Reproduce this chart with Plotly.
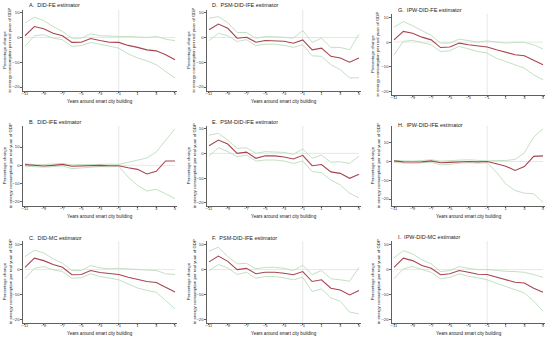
import plotly.graph_objects as go

W, H = 550, 338
years = list(range(-11, 6))
x_ticks = [-11, -9, -7, -5, -3, -1, 1, 3, 5]
y_ticks = [10, 0, -10, -20]

titles = ["A.  DID-FE estimator", "B.  DID-IFE estimator", "C.  DID-MC estimator",
          "D.  PSM-DID-IFE estimator", "E.  PSM-DID-IFE estimator", "F.  PSM-DID-IFE estimator",
          "G.  IPW-DID-FE estimator", "H.  IPW-DID-IFE estimator", "I.  IPW-DID-MC estimator"]

# Point estimates
est_A = [0.7, 4.4, 3.5, 1.7, 0.7, -2.0, -1.9, -0.4, -1.2, -1.9, -2.0, -3.2, -4.0, -5.0, -5.4, -7.0, -9.0]
est_B = [0.4, -0.2, -0.4, 0.0, 0.5, -0.5, -0.4, 0.0, 0.0, -0.2, -0.2, -1.3, -2.2, -4.7, -3.3, 2.4, 2.4]
est_C = [0.9, 4.6, 3.6, 2.0, 0.9, -2.1, -2.0, -0.4, -1.2, -1.7, -2.0, -3.1, -3.9, -4.8, -5.2, -7.1, -9.0]
est_D = [3.1, 5.4, 3.7, -0.3, 0.1, -1.9, -1.2, -1.2, -1.5, -2.3, -1.0, -5.0, -4.3, -7.6, -8.3, -10.0, -8.3]
est_E = [3.1, 5.4, 3.8, 0.0, 0.5, -2.0, -1.0, -1.0, -1.5, -2.3, -0.8, -5.0, -4.5, -7.5, -8.1, -10.1, -8.5]
est_F = [3.1, 5.4, 3.3, 0.0, 0.5, -1.7, -1.1, -1.1, -1.5, -2.1, -0.8, -4.8, -4.1, -7.5, -8.2, -10.2, -8.4]
est_G = [0.9, 4.3, 3.6, 2.0, 0.9, -2.2, -2.0, -0.4, -1.1, -1.7, -2.0, -3.1, -4.0, -5.1, -5.5, -7.4, -9.1]
est_H = [0.3, -0.2, -0.3, -0.2, 0.3, -0.7, -0.5, -0.2, 0.0, -0.2, 0.0, -1.2, -2.5, -4.8, -2.7, 2.7, 3.0]
est_I = [0.9, 4.6, 3.6, 1.6, 0.5, -2.1, -1.7, -0.4, -1.1, -1.9, -2.0, -3.1, -4.0, -5.1, -5.4, -7.5, -9.1]

# Upper confidence bounds
up_A = [5.8, 8.2, 6.8, 4.4, 2.4, -0.3, -0.3, 1.5, 0.7, 0.4, 0.4, 0.4, 0.1, 0.0, 0.4, -0.7, -1.3]
up_B = [0.9, 0.4, 0.4, 0.6, 1.0, 0.3, 0.4, 0.7, 0.8, 0.6, 0.5, 1.8, 3.1, 4.0, 7.3, 13.6, 20.0]
up_C = [5.2, 7.8, 6.7, 4.3, 2.5, -0.4, -0.4, 1.6, 0.7, 0.3, 0.5, 0.3, 0.0, -0.1, -0.4, -1.7, -2.0]
up_D = [7.8, 8.4, 6.0, 2.0, 2.0, -0.3, 0.4, 0.4, 0.1, -0.3, 2.8, -2.0, -0.3, -4.0, -4.0, -5.0, 1.3]
up_E = [7.4, 8.1, 5.4, 2.0, 2.3, 0.0, 0.7, 0.7, 0.4, -0.4, 1.8, -2.0, -0.7, -3.6, -3.4, -4.1, -1.1]
up_F = [7.4, 9.0, 5.2, 2.3, 2.5, 0.3, 0.9, 0.9, 0.5, -0.4, 1.7, -2.0, -0.4, -3.7, -4.1, -4.7, 0.9]
up_G = [6.0, 8.3, 6.6, 4.7, 2.7, -0.4, -0.4, 1.2, 0.5, 0.0, 0.5, 0.0, -0.4, -0.1, -0.1, -1.1, -2.8]
up_H = [0.5, 0.3, 0.2, 0.5, 0.9, 0.2, 0.3, 0.7, 0.9, 0.5, 0.3, 0.5, 0.5, 1.1, 4.6, 13.0, 17.4]
up_I = [4.7, 7.6, 6.3, 3.9, 2.3, -0.8, -0.4, 1.2, 0.5, 0.0, 0.0, -0.4, -0.7, -0.8, -1.1, -2.0, -3.1]

# Lower confidence bounds
lo_A = [-3.6, 0.7, 1.1, -0.3, -0.9, -3.6, -3.3, -2.0, -2.7, -3.6, -4.3, -6.6, -8.3, -9.4, -11.0, -13.7, -16.3]
lo_B = [-0.5, -0.9, -1.0, -0.7, -0.3, -1.8, -1.3, -0.8, -0.7, -0.8, -0.5, -6.4, -10.9, -14.0, -13.1, -15.5, -18.2]
lo_C = [-3.7, 0.5, 1.2, -0.1, -0.8, -3.5, -3.3, -1.7, -2.8, -3.5, -4.1, -5.8, -7.4, -8.4, -9.1, -12.4, -15.8]
lo_D = [-1.3, 1.7, 0.7, -1.6, -0.9, -3.3, -2.7, -2.7, -3.2, -4.0, -2.9, -7.4, -7.6, -11.0, -13.0, -16.3, -16.3]
lo_E = [-1.1, 2.3, 0.7, -1.4, -0.7, -3.1, -2.7, -2.7, -3.1, -4.1, -3.1, -7.4, -7.8, -10.8, -12.8, -16.2, -18.0]
lo_F = [-0.4, 2.0, 0.7, -2.0, -1.1, -3.5, -2.8, -2.8, -3.3, -4.1, -3.1, -8.8, -7.8, -11.4, -12.7, -17.1, -17.8]
lo_G = [-5.1, 0.3, 0.7, -0.1, -1.1, -3.8, -3.5, -1.7, -2.8, -3.8, -4.4, -6.5, -7.8, -9.2, -10.5, -13.2, -15.2]
lo_H = [-0.5, -0.9, -1.1, -0.7, -0.4, -1.8, -1.6, -0.9, -0.7, -0.9, -0.7, -5.7, -11.9, -15.5, -16.9, -17.2, -21.7]
lo_I = [-3.7, 0.3, 1.2, -0.1, -1.1, -3.7, -3.1, -1.7, -2.7, -3.3, -4.1, -5.5, -6.7, -8.2, -9.4, -12.7, -16.7]

estimates = [est_A, est_B, est_C, est_D, est_E, est_F, est_G, est_H, est_I]
uppers = [up_A, up_B, up_C, up_D, up_E, up_F, up_G, up_H, up_I]
lowers = [lo_A, lo_B, lo_C, lo_D, lo_E, lo_F, lo_G, lo_H, lo_I]

# Layout (pixels): per column x position of -11 and 5; per panel y geometry
col_x = [(25, 175), (209, 359), (394, 543)]
# (pixel of y=10, pixels per unit, axis top px, axis bottom px, title y px)
geom = [
    (12.7, 2.477, 10, 91, 5), (147.0, 1.833, 126, 206, 122), (244.7, 2.487, 241, 323, 238),
    (12.7, 2.477, 10, 91, 5), (128.7, 2.467, 126, 206, 122), (244.7, 2.487, 241, 323, 238),
    (17.3, 2.480, 14, 95, 10), (142.7, 1.877, 126, 206, 125), (244.7, 2.487, 241, 323, 237),
]
title_x = [27, 210, 396]
ylab_x = [7, 191, 375]

RED = "#a8444f"
GREEN = "#bcdcbc"
REF = "#dcdcdc"
AX = "#606060"
FONT = "Liberation Sans, Arial, sans-serif"

fig = go.Figure()
annotations = []
shapes = []
layout_axes = {}

for i in range(9):
    col = i // 3
    x0, x1 = col_x[col]
    p10, ppu, top, bot, ty = geom[i]
    ppy = (x1 - x0) / 16.0
    dx0 = (x0 - 0.25 * ppy) / W
    dx1 = (x1 + 0.25 * ppy) / W
    ymax = 10 + (p10 - top) / ppu
    ymin = 10 - (bot - p10) / ppu
    dy0 = 1 - bot / H
    dy1 = 1 - top / H
    n = "" if i == 0 else str(i + 1)
    xa, ya = "x" + n, "y" + n

    layout_axes["xaxis" + n] = dict(
        domain=[dx0, dx1], range=[-11.25, 5.25], anchor=ya,
        tickvals=x_ticks, ticks="outside", ticklen=1.5, tickwidth=0.6, tickcolor=AX,
        showline=True, linecolor=AX, linewidth=0.6, showgrid=False, zeroline=False,
        ticklabelstandoff=-3,
        tickfont=dict(size=4.2, family=FONT, color="#333"),
    )
    layout_axes["yaxis" + n] = dict(
        domain=[dy0, dy1], range=[ymin, ymax], anchor=xa,
        tickvals=y_ticks, ticks="outside", ticklen=1.5, tickwidth=0.6, tickcolor=AX,
        showline=True, linecolor=AX, linewidth=0.6, showgrid=False, zeroline=False,
        tickfont=dict(size=4.2, family=FONT, color="#333"),
    )

    # reference lines
    shapes.append(dict(type="line", xref=xa, yref=ya, x0=-11, x1=5, y0=0, y1=0,
                       line=dict(color=REF, width=0.7), layer="below"))
    shapes.append(dict(type="line", xref=xa, yref=ya, x0=-1, x1=-1, y0=ymin, y1=ymax,
                       line=dict(color=REF, width=0.7), layer="below"))

    for series, color, w in ((uppers[i], GREEN, 0.9), (lowers[i], GREEN, 0.9), (estimates[i], RED, 1.1)):
        fig.add_trace(go.Scatter(x=years, y=series, mode="lines", xaxis=xa, yaxis=ya,
                                 line=dict(color=color, width=w), showlegend=False,
                                 hoverinfo="skip"))

    annotations.append(dict(text=titles[i], xref="paper", yref="paper",
                            x=title_x[col] / W, y=1 - ty / H, xanchor="left", yanchor="middle",
                            showarrow=False, font=dict(size=5.5, family=FONT, color="#222")))
    annotations.append(dict(text="Percentage change<br>in energy consumption per real yuan of GDP",
                            xref="paper", yref="paper", x=ylab_x[col] / W,
                            y=1 - (top + bot) / 2 / H, xanchor="center", yanchor="middle",
                            textangle=-90, showarrow=False,
                            font=dict(size=4.3, family=FONT, color="#222")))
    if i != 6:
        annotations.append(dict(text="Years around smart city building", xref="paper", yref="paper",
                                x=((x0 + x1) / 2) / W, y=1 - (bot + 10) / H,
                                xanchor="center", yanchor="middle", showarrow=False,
                                font=dict(size=4.6, family=FONT, color="#222")))

fig.update_layout(width=W, height=H, margin=dict(l=0, r=0, t=0, b=0),
                  paper_bgcolor="white", plot_bgcolor="white",
                  annotations=annotations, shapes=shapes, **layout_axes)

fig.write_html("out.html", config={"displayModeBar": False},
               post_script="document.body.style.margin='0px';")
